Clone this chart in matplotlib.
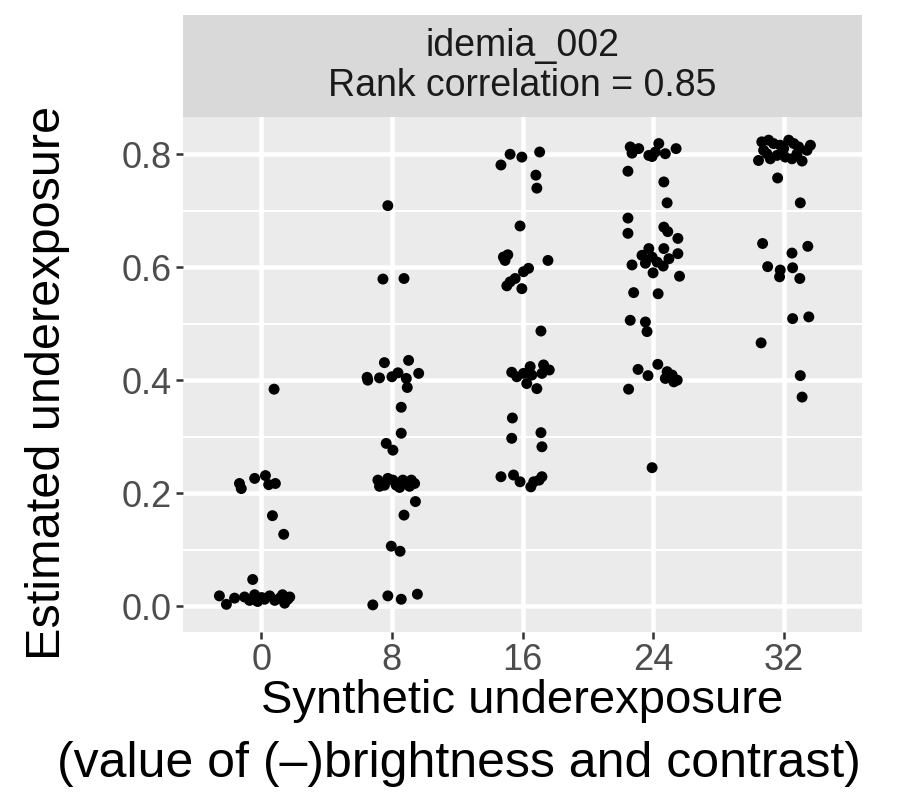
import matplotlib
matplotlib.use("Agg")
import matplotlib.pyplot as plt
import numpy as np

plt.rcParams['font.family'] = ['Liberation Sans', 'DejaVu Sans']

# facet header
facet_name = "idemia_002"
rank_corr = 0.85

# x levels (synthetic underexposure) and the tick labels
levels = [0, 8, 16, 24, 32]
tick_labels = ["0", "8", "16", "24", "32"]

# jitter offsets (in x units) and estimated underexposure per level
x0 = [0.78, -1.34, -1.23, -0.41, 0.25, 0.45, 0.86, 0.68, 1.37, -0.53,
      -2.57, -2.14, -1.64, -1.03, -0.72, -0.41, -0.23, 0.02, 0.2, 0.51,
      0.82, 1.13, 1.43, 1.74, 1.3, 1.62]
y0 = [0.384, 0.217, 0.208, 0.226, 0.231, 0.215, 0.217, 0.160, 0.127, 0.047,
      0.018, 0.003, 0.014, 0.016, 0.010, 0.020, 0.008, 0.015, 0.012, 0.018,
      0.010, 0.014, 0.005, 0.016, 0.020, 0.012]

x8 = [-0.25, -0.55, 0.74, -0.46, 1.02, -1.52, -0.76, 0.0, 0.37, 0.88,
      1.64, 0.94, 0.57, -1.48, 0.57, -0.35, 0.06, -0.86, -0.76, -0.25,
      0.06, 0.26, 0.47, 0.67, 1.19, 1.39, 1.08, -0.46, 1.44, 0.74,
      -0.04, 0.5, -0.25, 0.57, 1.56, -1.17]
y8 = [0.709, 0.579, 0.580, 0.431, 0.435, 0.405, 0.404, 0.406, 0.413, 0.403,
      0.412, 0.387, 0.352, 0.400, 0.306, 0.288, 0.276, 0.223, 0.212, 0.226,
      0.223, 0.214, 0.210, 0.223, 0.223, 0.217, 0.212, 0.214, 0.185, 0.161,
      0.106, 0.097, 0.018, 0.012, 0.021, 0.002]

x16 = [-0.76, -0.04, 1.05, -1.32, 0.82, 0.88, -0.15, -1.17, -0.9, -1.07,
       1.56, 0.37, 0.06, -0.45, -0.96, -0.04, -0.76, 1.13, -0.66, -0.35,
       0.47, 1.29, 1.64, 0.26, 0.88, 0.57, 0.06, 1.19, -0.62, 1.13,
       -0.66, 1.19, -1.32, -0.55, -0.15, 0.51, 1.02, 0.69, 1.19]
y16 = [0.800, 0.795, 0.804, 0.781, 0.763, 0.740, 0.673, 0.618, 0.622, 0.612,
       0.612, 0.598, 0.592, 0.580, 0.567, 0.562, 0.574, 0.487, 0.414, 0.406,
       0.424, 0.427, 0.418, 0.394, 0.385, 0.409, 0.412, 0.412, 0.333, 0.307,
       0.297, 0.282, 0.229, 0.232, 0.220, 0.211, 0.223, 0.220, 0.229]

x24 = [-1.4, -0.88, -1.29, -0.26, 0.35, 0.14, 0.75, 1.41, -0.06, -1.54,
       0.66, 0.86, -1.54, -1.54, 0.66, 0.9, 1.52, -0.26, 0.66, -0.68,
       -0.06, 1.52, -0.47, 0.25, 0.97, -1.29, 0.62, 0.0, 1.62, -1.19,
       0.31, -1.4, -0.47, -0.37, 0.29, -0.92, -0.31, 0.86, 1.17, 1.48,
       0.75, 1.27, 0.97, -1.5, -0.06]
y24 = [0.813, 0.810, 0.802, 0.798, 0.819, 0.804, 0.801, 0.810, 0.796, 0.770,
       0.751, 0.714, 0.687, 0.660, 0.671, 0.663, 0.651, 0.633, 0.633, 0.621,
       0.618, 0.624, 0.607, 0.609, 0.615, 0.604, 0.602, 0.590, 0.584, 0.555,
       0.553, 0.506, 0.503, 0.486, 0.428, 0.419, 0.408, 0.415, 0.409, 0.400,
       0.403, 0.397, 0.406, 0.384, 0.245]

x32 = [-1.34, -0.92, -0.62, -0.21, 0.31, 0.62, 0.92, 1.64, 1.43, -1.54,
       -0.82, -0.41, 0.1, 0.51, 1.13, -1.23, 0.0, 0.82, -1.03, -0.37,
       1.02, -1.29, 1.48, 0.51, -0.98, -0.21, -0.25, 0.55, 0.99, 0.55,
       1.54, -1.38, 1.02, 1.13]
y32 = [0.822, 0.825, 0.819, 0.816, 0.825, 0.819, 0.813, 0.816, 0.807, 0.789,
       0.792, 0.798, 0.795, 0.792, 0.788, 0.807, 0.810, 0.801, 0.801, 0.758,
       0.714, 0.642, 0.637, 0.625, 0.601, 0.595, 0.583, 0.599, 0.580, 0.509,
       0.512, 0.466, 0.408, 0.370]

jitter = [x0, x8, x16, x24, x32]
values = [y0, y8, y16, y24, y32]

W, H = 921, 806
fig = plt.figure(figsize=(W / 100, H / 100), dpi=100)
fig.patch.set_facecolor("white")

# panel and strip in pixel terms
pl, pr, pt, pb = 183, 862, 117, 632
strip_top = 15
ax = fig.add_axes([pl / W, 1 - pb / H, (pr - pl) / W, (pb - pt) / H])
strip = fig.add_axes([pl / W, 1 - pt / H, (pr - pl) / W, (pt - strip_top) / H])

ax.set_facecolor("#EBEBEB")
for s in ax.spines.values():
    s.set_visible(False)

ax.set_xlim(-4.8, 36.8)
ax.set_ylim(-0.046, 0.866)
ax.set_xticks(levels)
ax.set_xticklabels(tick_labels)
ax.set_yticks([0.0, 0.2, 0.4, 0.6, 0.8])
ax.set_yticklabels(["0.0", "0.2", "0.4", "0.6", "0.8"])
ax.set_yticks([0.1, 0.3, 0.5, 0.7], minor=True)

ax.grid(True, which="major", color="white", linewidth=3.3)
ax.grid(True, which="minor", axis="y", color="white", linewidth=1.5)
ax.set_axisbelow(True)

ax.tick_params(axis="both", which="major", colors="#333333", length=5,
               width=1.8, labelsize=26, labelcolor="#4D4D4D", pad=3)
ax.tick_params(axis="both", which="minor", length=0)

for lvl, dx, yy in zip(levels, jitter, values):
    xx = lvl + np.array(dx)
    ax.scatter(xx, yy, s=62, color="black", edgecolors="none", zorder=3)

# axis titles placed in figure pixels
fig.text((pl + pr) / 2 / W, 1 - 713 / H, "Synthetic underexposure",
         ha="center", va="baseline", fontsize=34, color="black")
fig.text(459 / W, 1 - 777 / H, "(value of (\u2013)brightness and contrast)",
         ha="center", va="baseline", fontsize=36, color="black")
fig.text(48 / W, 1 - 383 / H, "Estimated underexposure", rotation=90,
         ha="center", va="center", fontsize=35, color="black")

strip.set_facecolor("#D9D9D9")
strip.set_xticks([])
strip.set_yticks([])
for s in strip.spines.values():
    s.set_visible(False)
strip.text(0.5, 0.5, f"{facet_name}\nRank correlation = {rank_corr:.2f}",
           ha="center", va="center", fontsize=27, color="#1A1A1A",
           linespacing=1.12, transform=strip.transAxes)

fig.savefig("out.png", dpi=100)
